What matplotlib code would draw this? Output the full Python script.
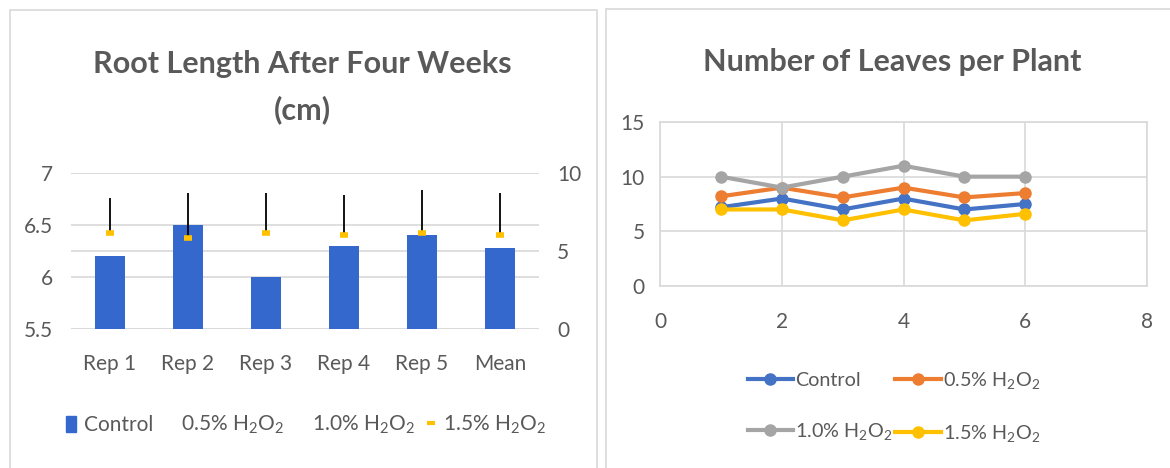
import numpy as np
import matplotlib
matplotlib.use('Agg')
import matplotlib.pyplot as plt
from matplotlib.patches import Rectangle
from matplotlib.lines import Line2D

# --- data: root length (left chart) ---
reps = ['Rep 1', 'Rep 2', 'Rep 3', 'Rep 4', 'Rep 5', 'Mean']
root_control = [6.2, 6.5, 6.0, 6.3, 6.4, 6.28]
root_15 = [6.15, 5.85, 6.15, 6.0, 6.18, 6.0]
root_15_err = [2.25, 2.87, 2.57, 2.61, 2.71, 2.72]

# --- data: leaves per plant (right chart) ---
weeks = [1, 2, 3, 4, 5, 6]
leaves_control = [7.2, 8, 7, 8, 7, 7.5]
leaves_05 = [8.2, 9, 8.1, 9, 8.1, 8.5]
leaves_10 = [10, 9, 10, 11, 10, 10]
leaves_15 = [7, 7, 6, 7, 6, 6.6]

labels = ['Control', '0.5% H$_2$O$_2$', '1.0% H$_2$O$_2$', '1.5% H$_2$O$_2$']

BLUE = '#4472C4'
BAR_BLUE = '#3568CC'
ORANGE = '#ED7D31'
GRAY = '#A5A5A5'
YELLOW = '#FFC000'
TEXT = '#595959'
GRID = '#d9d9d9'

plt.rcParams['font.family'] = ['Lato', 'DejaVu Sans']
plt.rcParams['mathtext.fontset'] = 'custom'
plt.rcParams['mathtext.rm'] = 'Lato'
plt.rcParams['mathtext.it'] = 'Lato'
plt.rcParams['font.size'] = 15

fig = plt.figure(figsize=(11.7, 4.68), dpi=100)
fig.patch.set_facecolor('white')

# panel frames
fig.add_artist(Rectangle((10 / 1170, -0.1), 587 / 1170, 1.1 - 10 / 468, transform=fig.transFigure,
                         fill=False, ec=GRID, lw=1.2))
fig.add_artist(Rectangle((606 / 1170, -0.1), 0.6, 1.1 - 9 / 468, transform=fig.transFigure,
                         fill=False, ec=GRID, lw=1.2))

# ---------------- left chart ----------------
rect = [71 / 1170, 1 - 329 / 468, 468 / 1170, 156 / 468]
x = np.arange(len(reps))

# secondary-axis gridlines sit behind the bars
axg = fig.add_axes(rect)
axg.set_ylim(0, 10)
axg.set_yticks([0, 5, 10])
axg.yaxis.grid(True, color=GRID, lw=1.2)
axg.set_xticks([])
axg.tick_params(axis='both', length=0, labelleft=False, labelbottom=False)
for s in axg.spines.values():
    s.set_visible(False)
axg.set_zorder(0)

ax = fig.add_axes(rect)
ax.patch.set_visible(False)
ax.set_zorder(1)
ax.bar(x, root_control, width=0.39, color=BAR_BLUE, zorder=3)
ax.set_ylim(5.5, 7)
ax.set_yticks([5.5, 6, 6.5, 7])
ax.set_yticklabels(['5.5', '6', '6.5', '7'])
ax.set_xlim(-0.5, len(reps) - 0.5)
ax.set_xticks(x)
ax.set_xticklabels(reps)
ax.yaxis.grid(True, color=GRID, lw=1.2)
ax.set_axisbelow(True)
for s in ax.spines.values():
    s.set_visible(False)
ax.tick_params(axis='y', length=0, pad=13, colors=TEXT)
ax.tick_params(axis='x', length=0, pad=18, colors=TEXT)

ax2 = ax.twinx()
ax2.set_zorder(2)
ax2.patch.set_visible(False)
ax2.set_ylim(0, 10)
ax2.set_yticks([0, 5, 10])
for s in ax2.spines.values():
    s.set_visible(False)
ax2.tick_params(axis='y', length=0, pad=13, colors=TEXT)
ax2.errorbar(x, root_15, yerr=[np.zeros(len(root_15)), root_15_err], fmt='none',
             ecolor='black', elinewidth=1.3, capsize=0, zorder=4)
ax2.plot(x, root_15, linestyle='none', marker='_', ms=6, mew=4, color=YELLOW, zorder=5)

h_bar = Rectangle((0, 0), 1, 1, color=BAR_BLUE)
h_05 = Line2D([], [], linestyle='none')
h_10 = Line2D([], [], linestyle='none')
h_15 = Line2D([], [], linestyle='none', marker='_', ms=6, mew=3, color=YELLOW)
fig.legend([h_bar, h_05, h_10, h_15], labels, loc='center', bbox_to_anchor=(306 / 1170, 1 - 425 / 468),
           ncol=4, frameon=False, handlelength=0.5, handleheight=0.8, handletextpad=0.35,
           columnspacing=0.5, labelcolor=TEXT, fontsize=15)

fig.text(302 / 1170, 1 - 87 / 468, 'Root Length After Four Weeks\n(cm)', ha='center', va='center',
         fontsize=22, fontweight='bold', color=TEXT, linespacing=1.75)

# ---------------- right chart ----------------
bx = fig.add_axes([660 / 1170, 1 - 286 / 468, 487 / 1170, 164 / 468])
series = [(leaves_control, BLUE), (leaves_05, ORANGE), (leaves_10, GRAY), (leaves_15, YELLOW)]
handles = []
for (vals, col), lab in zip(series, labels):
    ln, = bx.plot(weeks, vals, color=col, lw=3, marker='o', ms=8, label=lab, zorder=3)
    handles.append(ln)
bx.set_xlim(0, 8)
bx.set_ylim(0, 15)
bx.set_xticks([0, 2, 4, 6, 8])
bx.set_yticks([0, 5, 10, 15])
bx.grid(True, color=GRID, lw=1.2)
bx.set_axisbelow(True)
for s in bx.spines.values():
    s.set_color(GRID)
    s.set_linewidth(1.2)
bx.tick_params(axis='y', length=0, pad=11, colors=TEXT)
bx.tick_params(axis='x', length=0, pad=19, colors=TEXT)

# legend fills column-wise, so reorder to read row-wise like the original
order = [0, 2, 1, 3]
fig.legend([handles[i] for i in order], [labels[i] for i in order], loc='center',
           bbox_to_anchor=(894 / 1170, 1 - 407 / 468), ncol=2, frameon=False,
           handlelength=2.3, handletextpad=0.1, columnspacing=0.15,
           labelspacing=1.6, labelcolor=TEXT, fontsize=14.2)

fig.text(892 / 1170, 1 - 62 / 468, 'Number of Leaves per Plant', ha='center', va='center',
         fontsize=22, fontweight='bold', color=TEXT)

fig.savefig('out.png', dpi=100)
